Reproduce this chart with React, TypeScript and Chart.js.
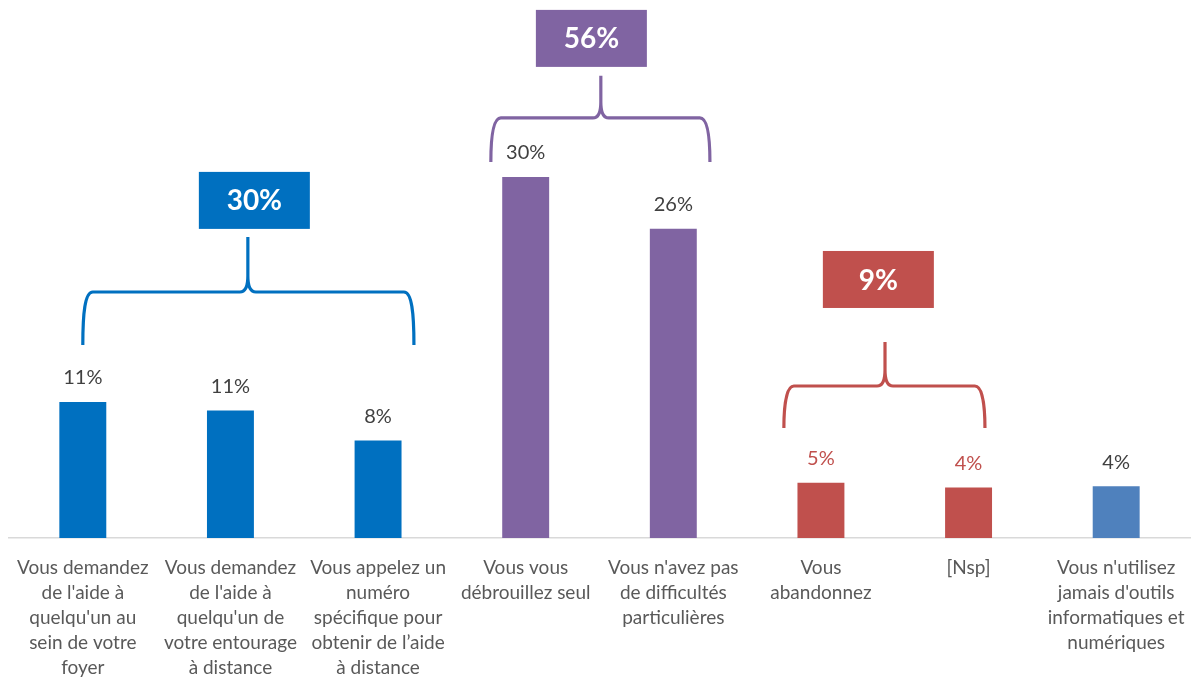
import React, { useEffect, useRef } from "react";
import { Chart, registerables } from "chart.js";

Chart.register(...registerables);

// ---- data ----
const categories: string[][] = [
  ["Vous demandez", "de l'aide à", "quelqu'un au", "sein de votre", "foyer"],
  ["Vous demandez", "de l'aide à", "quelqu'un de", "votre entourage", "à distance"],
  ["Vous appelez un", "numéro", "spécifique pour", "obtenir de l’aide", "à distance"],
  ["Vous vous", "débrouillez seul"],
  ["Vous n'avez pas", "de difficultés", "particulières"],
  ["Vous", "abandonnez"],
  ["[Nsp]"],
  ["Vous n'utilisez", "jamais d'outils", "informatiques et", "numériques"],
];
const values: number[] = [11.3, 10.6, 8.1, 30, 25.7, 4.6, 4.2, 4.3];
const barColors: string[] = ["#0070C0", "#0070C0", "#0070C0", "#8064A2", "#8064A2", "#C0504D", "#C0504D", "#4F81BD"];
const valueLabelColors: string[] = ["#404040", "#404040", "#404040", "#404040", "#404040", "#C0504D", "#C0504D", "#404040"];
const groupTotals: string[] = ["30%", "56%", "9%"];
const groupColors: string[] = ["#0070C0", "#8064A2", "#C0504D"];

// brace geometry in scale units (x: category index, y: value)
const braceLayout = [
  { left: 0, right: 2.243, tip: 1.118, box: 1.162, yEnd: 16.04, yBar: 20.44, yTip: 25.0, yBox: 28.05 },
  { left: 2.764, right: 4.248, tip: 3.509, box: 3.445, yEnd: 31.25, yBar: 34.9, yTip: 38.4, yBox: 41.51 },
  { left: 4.749, right: 6.111, tip: 5.434, box: 5.389, yEnd: 9.14, yBar: 12.63, yTip: 16.29, yBox: 21.48 },
];

const FONT = "Lato, 'Open Sans', sans-serif";

const valueLabelPlugin = {
  id: "valueLabels",
  afterDatasetsDraw(chart: any) {
    const ctx = chart.ctx;
    const meta = chart.getDatasetMeta(0);
    ctx.save();
    ctx.font = `20px ${FONT}`;
    ctx.textAlign = "center";
    ctx.textBaseline = "middle";
    meta.data.forEach((el: any, i: number) => {
      ctx.fillStyle = valueLabelColors[i];
      ctx.fillText(Math.round(values[i]) + "%", el.x, el.y - 24);
    });
    ctx.restore();
  },
};

const bracePlugin = {
  id: "braces",
  afterDatasetsDraw(chart: any) {
    const ctx = chart.ctx;
    const xs = chart.scales.x;
    const ys = chart.scales.y;
    const p0 = xs.getPixelForValue(0);
    const step = xs.getPixelForValue(1) - p0;
    const px = (v: number) => p0 + v * step;
    const py = (v: number) => ys.getPixelForValue(v);
    braceLayout.forEach((b, gi) => {
      const color = groupColors[gi];
      const xL = px(b.left), xR = px(b.right), xC = px(b.tip);
      const yE = py(b.yEnd), yH = py(b.yBar), yT = py(b.yTip);
      ctx.save();
      ctx.strokeStyle = color;
      ctx.lineWidth = 3.2;
      ctx.lineCap = "butt";
      ctx.lineJoin = "round";
      ctx.beginPath();
      ctx.moveTo(xL, yE);
      ctx.bezierCurveTo(xL, yH + 22, xL + 2, yH, xL + 10, yH);
      ctx.lineTo(xC - 8, yH);
      ctx.quadraticCurveTo(xC, yH, xC, yH - 16);
      ctx.lineTo(xC, yT);
      ctx.moveTo(xC, yH - 16);
      ctx.quadraticCurveTo(xC, yH, xC + 8, yH);
      ctx.lineTo(xR - 10, yH);
      ctx.bezierCurveTo(xR - 2, yH, xR, yH + 22, xR, yE);
      ctx.stroke();
      // box
      const bx = px(b.box), by = py(b.yBox);
      const w = 111, h = 57;
      ctx.fillStyle = color;
      ctx.fillRect(bx - w / 2, by - h / 2, w, h);
      ctx.fillStyle = "#FFFFFF";
      ctx.font = `bold 28px ${FONT}`;
      ctx.textAlign = "center";
      ctx.textBaseline = "middle";
      ctx.fillText(groupTotals[gi], bx, by + 1);
      ctx.restore();
    });
  },
};

export default function App() {
  const ref = useRef<HTMLCanvasElement | null>(null);
  useEffect(() => {
    if (!ref.current) return;
    const chart = new Chart(ref.current, {
      type: "bar",
      data: {
        labels: categories,
        datasets: [
          {
            data: values,
            backgroundColor: barColors,
            barPercentage: 0.318,
            categoryPercentage: 1,
          },
        ],
      },
      options: {
        responsive: true,
        maintainAspectRatio: false,
        animation: false,
        layout: { padding: { left: 9, right: 8, top: 0, bottom: 0 } },
        plugins: { legend: { display: false }, tooltip: { enabled: false } },
        scales: {
          x: {
            grid: { display: false, drawTicks: false },
            border: { display: true, color: "#D9D9D9", width: 1.5 },
            ticks: {
              autoSkip: false,
              maxRotation: 0,
              minRotation: 0,
              padding: 17,
              color: "#595959",
              font: { family: FONT, size: 19, lineHeight: "25px" },
            },
            afterFit: (s: any) => {
              s.height = 142;
              s.paddingLeft = 0;
              s.paddingRight = 0;
            },
          },
          y: { display: false, min: 0, max: 44.7 },
        },
      },
      plugins: [valueLabelPlugin, bracePlugin],
    });
    return () => chart.destroy();
  }, []);
  return (
    <div style={{ position: "fixed", left: 0, top: 0, width: 1198, height: 680, background: "#fff" }}>
      <canvas ref={ref} />
    </div>
  );
}
